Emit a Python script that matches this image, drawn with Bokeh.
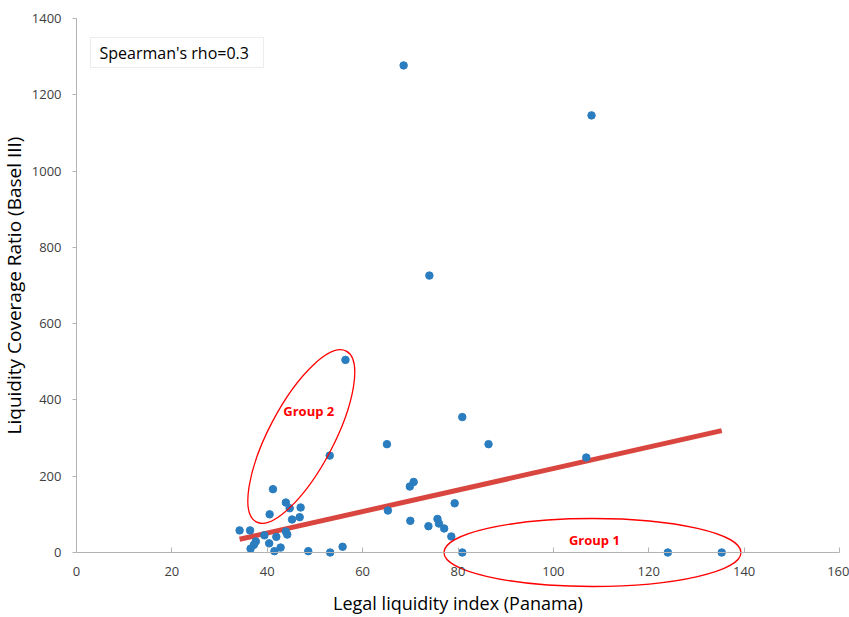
import numpy as np
from bokeh.plotting import figure
from bokeh.models import Range1d, FixedTicker, Label, BoxAnnotation
from bokeh.embed import file_html
from bokeh.resources import INLINE

# ---- data ----
legal_index = [34.2, 36.4, 39.4, 41.9, 43.9, 44.2, 37.6, 37.2, 36.5, 40.4, 42.8, 41.5, 48.6, 53.2, 55.8,
               41.2, 43.9, 44.7, 47.0, 40.5, 45.2, 46.8,
               80.9, 65.1, 86.4, 70.7, 69.9, 65.3, 79.3, 70.0, 73.8, 75.7, 76.0, 77.1, 78.6, 80.9,
               68.6, 108.0, 74.0, 56.4, 53.1, 106.9, 124.0, 135.3]
lcr = [58, 58, 45, 41, 55, 47, 29, 20, 10, 24, 13, 3.5, 3.5, 0, 15,
       166, 131, 116, 118, 100, 86.5, 92.6,
       355, 284, 284, 185, 173, 110, 129, 83, 69, 88, 76, 63, 42, 0,
       1277, 1146, 726, 505, 254, 249, 0, 0]

trend_slope = 2.816
trend_intercept = -61.6

x_ticks = [0, 20, 40, 60, 80, 100, 120, 140, 160]
y_ticks = [0, 200, 400, 600, 800, 1000, 1200, 1400]

group_names = ["Group 2", "Group 1"]
group_label_x = [48.7, 108.6]
group_label_y = [372.0, 33.0]
group_center_x = [47.14, 108.2]
group_center_y = [304.0, 0.0]
group_width_px = [193, 297]
group_height_px = [65, 68]
group_angle_deg = [62.2, 0.0]

stat_text = "Spearman's rho=0.3"

# ---- layout (whole canvas is the frame; both axes are fixed at 0) ----
W, H = 849, 617
ORIG = 0                       # Bokeh page template has no body margin
X0, X160 = 76, 839             # page pixels of x=0 and x=160
Y0, Y1400 = 552, 18            # page pixels of y=0 and y=1400
sx = (X160 - X0) / 160.0
sy = (Y0 - Y1400) / 1400.0
x_start = -(X0 - ORIG) / sx
x_end = 160 + (ORIG + W - X160) / sx
y_end = 1400 + (Y1400 - ORIG) / sy
y_start = -(ORIG + H - Y0) / sy

# reference-pixel to data helpers
def dx(px):
    return (px - X0) / sx
def dy(py):
    return (Y0 - py) / sy

FONT = "Open Sans"

p = figure(width=W, height=H, output_backend="svg", toolbar_location=None,
           x_range=Range1d(x_start, x_end), y_range=Range1d(y_start, y_end),
           min_border_left=0, min_border_right=0, min_border_top=0, min_border_bottom=0)
p.grid.visible = False
p.outline_line_color = None
p.background_fill_color = "white"
p.border_fill_color = "white"

xa = p.xaxis[0]
xa.fixed_location = 0
xa.bounds = (0, 160)
xa.ticker = FixedTicker(ticks=x_ticks)
xa.axis_label = "Legal liquidity index (Panama)"
xa.axis_label_text_font = FONT
xa.axis_label_text_font_size = "18px"
xa.axis_label_text_font_style = "normal"
xa.axis_label_text_color = "black"
xa.axis_label_standoff = 12
xa.major_label_text_font = FONT
xa.major_label_text_font_size = "13px"
xa.major_label_text_color = "#404040"
xa.major_label_standoff = 14
xa.major_tick_in = 5
xa.major_tick_out = 0
xa.minor_tick_line_color = None
xa.axis_line_color = "#b3b3b3"
xa.major_tick_line_color = "#b3b3b3"

ya = p.yaxis[0]
ya.fixed_location = 0
ya.bounds = (0, 1400)
ya.ticker = FixedTicker(ticks=y_ticks)
ya.axis_label = "Liquidity Coverage Ratio (Basel III)"
ya.axis_label_text_font = FONT
ya.axis_label_text_font_size = "19px"
ya.axis_label_text_font_style = "normal"
ya.axis_label_text_color = "black"
ya.axis_label_standoff = 2
ya.major_label_text_font = FONT
ya.major_label_text_font_size = "13px"
ya.major_label_text_color = "#404040"
ya.major_label_standoff = 11
ya.major_tick_in = 0
ya.major_tick_out = 4
ya.minor_tick_line_color = None
ya.axis_line_color = "#b3b3b3"
ya.major_tick_line_color = "#b3b3b3"

# stat box
p.add_layout(BoxAnnotation(left=dx(90), right=dx(263), top=dy(37), bottom=dy(67),
                           fill_color="white", fill_alpha=1.0,
                           line_color="#c0c0c0", line_width=1, level="overlay"))
p.add_layout(Label(x=dx(99), y=dy(52.5), text=stat_text, text_font=FONT,
                   text_font_size="16px", text_color="black",
                   text_baseline="middle", text_align="left", level="overlay"))

# trend line
tx = np.array([min(legal_index), max(legal_index)])
ty = trend_slope * tx + trend_intercept
p.line(tx, ty, line_width=5, line_color="#d9453f")

# points
p.scatter(legal_index, lcr, size=7.5, fill_color="#2a7dbf", line_color="#2a7dbf")

# group ellipses
p.ellipse(x=group_center_x, y=group_center_y, width=group_width_px, height=group_height_px,
          angle=list(np.deg2rad(group_angle_deg)), width_units="screen", height_units="screen",
          fill_color=None, line_color="#ff0000", line_width=1.3)
for name, gx, gy in zip(group_names, group_label_x, group_label_y):
    p.add_layout(Label(x=gx, y=gy, text=name, text_font=FONT, text_font_size="13px",
                       text_font_style="bold", text_color="#ff0000",
                       text_align="center", text_baseline="middle"))

open("out.html", "w").write(file_html(p, INLINE))
